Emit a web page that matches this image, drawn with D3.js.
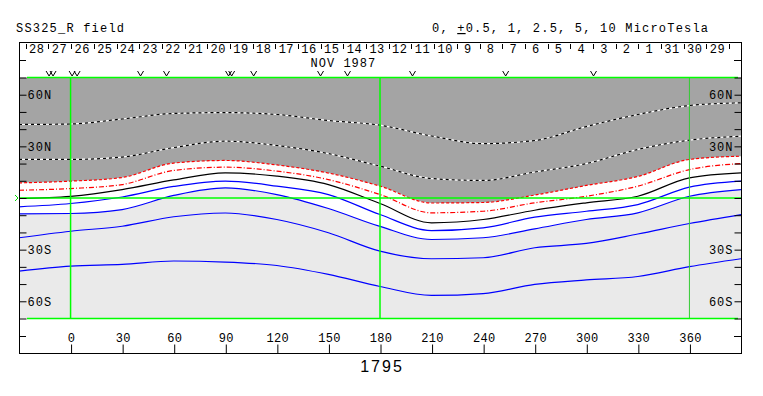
<!DOCTYPE html>
<html>
<head>
<meta charset="utf-8">
<script src="https://cdn.jsdelivr.net/npm/d3@7"></script>
<style>
  body { margin: 0; background: #fff; }
  text { font-family: "Liberation Mono", "DejaVu Sans Mono", monospace; fill: #000; }
</style>
</head>
<body>
<div id="chart"></div>
<script>
/* Source surface field map, Carrington rotation 1795 */

const WIDTH = 763;
const HEIGHT = 396;
const FRAME = {left: 19, right: 741, top: 42, bottom: 353};

// contour samples, latitude (deg) at each longitude
const lonSamples  = [-30, 0, 30, 60, 90, 120, 150, 180, 210, 240, 270, 300, 330, 360, 390];
const latPlus5    = [42.7, 43.0, 45.9, 49.1, 49.6, 48.5, 45.0, 42.3, 36.0, 31.6, 33.4, 41.5, 48.5, 53.7, 55.3];
const latPlus25   = [22.4, 22.4, 23.8, 29.3, 33.0, 30.5, 25.8, 18.5, 11.3, 10.2, 15.1, 20.0, 28.2, 33.6, 35.9];
const latPlus1    = [8.8, 9.8, 11.9, 20.3, 21.8, 19.2, 14.5, 6.9, -2.9, -2.6, 1.7, 7.3, 12.5, 22.4, 24.3];
const latPlus05   = [4.5, 5.5, 7.8, 16.0, 17.9, 15.6, 10.7, 2.0, -8.6, -7.7, -2.8, 1.0, 6.9, 16.5, 20.0];
const latNeutral  = [-0.3, 1.0, 4.9, 10.5, 14.6, 12.7, 7.8, -3.2, -14.4, -12.5, -7.1, -2.8, 1.0, 11.7, 14.6];
const latMinus05  = [-5.1, -3.2, 0.6, 6.7, 9.8, 6.9, 2.0, -9.6, -18.9, -17.3, -11.1, -7.7, -3.8, 6.3, 9.8];
const latMinus1   = [-9.2, -9.0, -6.7, 1.5, 5.9, 2.0, -6.1, -16.5, -24.1, -23.1, -17.9, -12.5, -8.6, 1.0, 4.9];
const latMinus25  = [-23.1, -19.3, -16.4, -10.9, -8.7, -12.5, -20.2, -30.9, -35.3, -34.7, -28.9, -26.4, -20.9, -14.8, -9.6];
const latMinus5   = [-42.5, -39.6, -38.6, -36.6, -37.2, -39.2, -44.4, -51.4, -56.6, -55.5, -50.2, -47.6, -45.6, -39.9, -35.3];

// axes
const lonTicks = [0, 30, 60, 90, 120, 150, 180, 210, 240, 270, 300, 330, 360];
const latTicks = [-70, -60, -50, -40, -30, -20, -10, 0, 10, 20, 30, 40, 50, 60, 70];
const latLabels = [60, 30, -30, -60];
const greenLons = [0, 180, 360];

// observation markers (longitude)
const markerLons = [-12.5, -10.2, 0.9, 3.8, 40.7, 55.8, 91.9, 93.7, 106.5, 145.4, 161.1, 198.9, 253.1, 304.2];

// dates: rotation 1795 runs from lon 360 to lon 0
const rotationStart = new Date(Date.UTC(1987, 9, 29, 18));
const rotationDays = 27.2753;
const firstDay = new Date(Date.UTC(1987, 9, 28));
const lastDay = new Date(Date.UTC(1987, 10, 28));

const title = "SS325_R field";
const rotationLabel = "1795";
const monthLabel = "NOV 1987";
const monthLabelDate = new Date(Date.UTC(1987, 10, 14));

window.onload = () => {
    const svg = d3.select("#chart").append("svg")
        .attr("width", WIDTH).attr("height", HEIGHT);

    const x = d3.scaleLinear().domain([-30, 390]).range([FRAME.left, FRAME.right]);
    const y = d3.scaleLinear().domain([-70, 70]).range([318.5, 77.5]);
    const dateToLon = d3.scaleUtc()
        .domain([rotationStart, new Date(+rotationStart + rotationDays * 864e5)])
        .range([360, 0]);

    const plotTop = y(70), plotBottom = y(-70);

    svg.append("clipPath").attr("id", "plotClip").append("rect")
        .attr("x", FRAME.left).attr("y", plotTop)
        .attr("width", FRAME.right - FRAME.left).attr("height", plotBottom - plotTop);

    const plot = svg.append("g").attr("clip-path", "url(#plotClip)");
    const pts = (lats) => lonSamples.map((lon, i) => [lon, lats[i]]);
    const curve = d3.curveMonotoneX;

    plot.append("rect")
        .attr("x", FRAME.left).attr("y", plotTop)
        .attr("width", FRAME.right - FRAME.left).attr("height", plotBottom - plotTop)
        .attr("fill", "#fff");

    // shading: positive above +1, negative below -1
    plot.append("path").datum(pts(latPlus1))
        .attr("fill", "#a4a4a4")
        .attr("d", d3.area().x(d => x(d[0])).y0(plotTop).y1(d => y(d[1])).curve(curve));
    plot.append("path").datum(pts(latMinus1))
        .attr("fill", "#eaeaea")
        .attr("d", d3.area().x(d => x(d[0])).y0(d => y(d[1])).y1(plotBottom).curve(curve));

    const line = d3.line().x(d => x(d[0])).y(d => y(d[1])).curve(curve);

    const contours = [
        {lats: latPlus5, stroke: "#000", dash: "3,3", under: "#fff"},
        {lats: latPlus25, stroke: "#000", dash: "3,3", under: "#fff"},
        {lats: latPlus1, stroke: "#f00", dash: "3,2", under: null},
        {lats: latPlus05, stroke: "#f00", dash: "5,2,1,2", under: null},
        {lats: latNeutral, stroke: "#000", dash: null, under: null},
        {lats: latMinus05, stroke: "#00f", dash: null, under: null},
        {lats: latMinus1, stroke: "#00f", dash: null, under: null},
        {lats: latMinus25, stroke: "#00f", dash: null, under: null},
        {lats: latMinus5, stroke: "#00f", dash: null, under: null}
    ];

    contours.forEach((c) => {
        if (c.under) {
            plot.append("path").datum(pts(c.lats))
                .attr("fill", "none").attr("stroke", c.under).attr("stroke-width", 1.2)
                .attr("d", line);
        }
        plot.append("path").datum(pts(c.lats))
            .attr("fill", "none").attr("stroke", c.stroke).attr("stroke-width", 1.2)
            .attr("stroke-dasharray", c.dash)
            .attr("d", line);
    });

    // green reference lines
    svg.selectAll(".vgreen").data(greenLons).enter().append("line")
        .attr("class", "vgreen")
        .attr("x1", d => x(d)).attr("x2", d => x(d))
        .attr("y1", plotTop).attr("y2", plotBottom)
        .attr("stroke", d => d === 360 ? "#33cc33" : "#00ff00")
        .attr("stroke-width", d => d === 360 ? 1 : 1.5);

    svg.append("line")
        .attr("x1", FRAME.left).attr("x2", FRAME.right)
        .attr("y1", y(0)).attr("y2", y(0))
        .attr("stroke", "#00ff00").attr("stroke-width", 1.5);
    [plotTop, plotBottom].forEach((py) => {
        svg.append("line")
            .attr("x1", FRAME.left + 8).attr("x2", FRAME.right - 3)
            .attr("y1", py).attr("y2", py)
            .attr("stroke", "#00ff00").attr("stroke-width", 1.5);
    });
    svg.append("path")
        .attr("d", `M15,${y(0) - 3}L18,${y(0)}L15,${y(0) + 3}`)
        .attr("fill", "none").attr("stroke", "#00dd00");

    // frame
    svg.append("rect")
        .attr("x", FRAME.left + 0.5).attr("y", FRAME.top + 0.5)
        .attr("width", FRAME.right - FRAME.left).attr("height", FRAME.bottom - FRAME.top)
        .attr("fill", "none").attr("stroke", "#000");

    const latFmt = (d) => latLabels.includes(d) ? (d > 0 ? d + "N" : (-d) + "S") : "";

    const styleAxis = (g) => {
        g.select(".domain").remove();
        g.attr("font-family", null).attr("font-size", null);
        g.selectAll("line").attr("stroke", "#000");
        g.selectAll("text").style("font-size", "12px").style("letter-spacing", "1px").attr("fill", "#000");
    };

    svg.append("g").attr("transform", `translate(${FRAME.left + 0.5},0)`)
        .call(d3.axisRight(y).tickValues(latTicks).tickSize(7).tickPadding(1).tickFormat(latFmt))
        .call(styleAxis);
    svg.append("g").attr("transform", `translate(${FRAME.right + 0.5},0)`)
        .call(d3.axisLeft(y).tickValues(latTicks).tickSize(7).tickPadding(1).tickFormat(latFmt))
        .call(styleAxis);

    svg.append("g").attr("transform", `translate(0.5,${FRAME.bottom + 0.5})`)
        .call(d3.axisTop(x).tickValues(lonTicks).tickSize(9).tickPadding(3).tickFormat(d3.format("d")))
        .call(styleAxis)
        .call(g => g.selectAll("text").style("letter-spacing", "0.3px"));

    // side ticks in header and footer
    [60, 336].forEach((py) => {
        svg.append("line").attr("x1", FRAME.left).attr("x2", FRAME.left + 7)
            .attr("y1", py + 0.5).attr("y2", py + 0.5).attr("stroke", "#000");
        svg.append("line").attr("x1", FRAME.right - 7).attr("x2", FRAME.right)
            .attr("y1", py + 0.5).attr("y2", py + 0.5).attr("stroke", "#000");
    });

    // day ticks across the top
    const days = d3.utcDay.range(firstDay, d3.utcDay.offset(lastDay, 1));
    const dayX = (d) => x(dateToLon(d));
    const dayG = svg.append("g");
    dayG.selectAll("line").data(days).enter().append("line")
        .attr("x1", d => Math.round(dayX(d)) + 0.5).attr("x2", d => Math.round(dayX(d)) + 0.5)
        .attr("y1", FRAME.top + 2).attr("y2", FRAME.top + 7)
        .attr("stroke", "#000");
    dayG.selectAll("text").data(days.filter(d => dayX(d) + 20 < FRAME.right)).enter().append("text")
        .attr("x", d => dayX(d) + 11).attr("y", FRAME.top + 11)
        .attr("text-anchor", "middle")
        .style("font-size", "12px").style("letter-spacing", "0.5px")
        .text(d => d.getUTCDate());

    svg.append("text")
        .attr("x", x(dateToLon(monthLabelDate))).attr("y", 66.5)
        .attr("text-anchor", "middle")
        .style("font-size", "12px").style("letter-spacing", "1px")
        .text(monthLabel);

    // observation markers
    svg.append("g").selectAll("path").data(markerLons).enter().append("path")
        .attr("d", d => `M${x(d) - 3},71L${x(d)},76L${x(d) + 3},71`)
        .attr("fill", "none").attr("stroke", "#000").attr("stroke-width", 1);

    // titles
    svg.append("text").attr("x", 16).attr("y", 32)
        .style("font-size", "12px").style("letter-spacing", "1.2px")
        .text(title);

    const legend = svg.append("text").attr("x", 432).attr("y", 32)
        .style("font-size", "12px").style("letter-spacing", "1.2px");
    legend.append("tspan").text("0, ");
    legend.append("tspan").attr("text-decoration", "underline").text("+");
    legend.append("tspan").text("0.5, 1, 2.5, 5, 10 MicroTesla");

    svg.append("text").attr("x", x(180) + 2).attr("y", 372)
        .attr("text-anchor", "middle")
        .style("font-family", "'Liberation Sans', Arimo, sans-serif")
        .style("font-size", "16px").style("letter-spacing", "2px")
        .text(rotationLabel);
};
</script>
</body>
</html>
